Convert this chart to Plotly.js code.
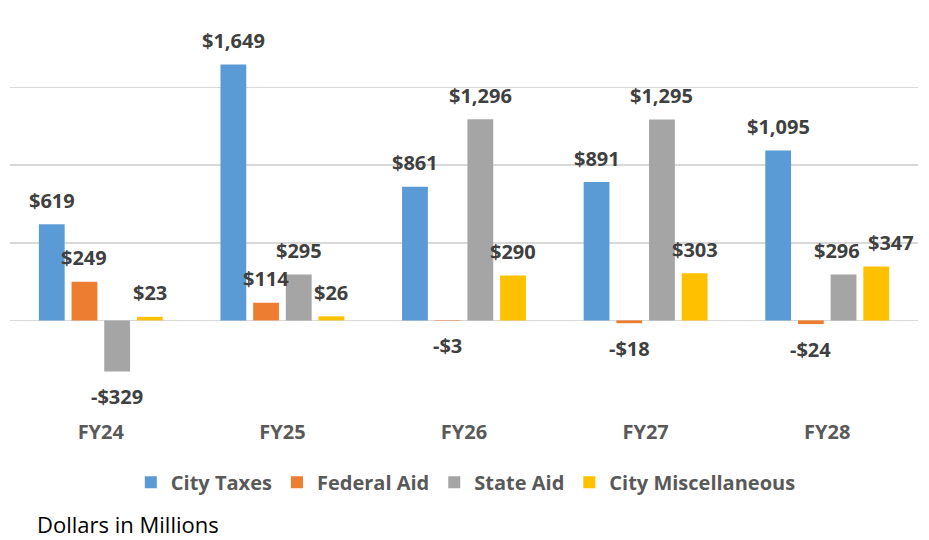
<!DOCTYPE html>
<html>
<head>
<meta charset="utf-8">
<script src="https://cdn.plot.ly/plotly-3.0.1.min.js"></script>
<style>
  html, body { margin: 0; padding: 0; background: #ffffff; }
  #chart { width: 929px; height: 540px; }
</style>
</head>
<body>
<div id="chart"></div>
<script>
const categories = ['FY24', 'FY25', 'FY26', 'FY27', 'FY28'];
const cityTaxes = [619, 1649, 861, 891, 1095];
const federalAid = [249, 114, -3, -18, -24];
const stateAid = [-329, 295, 1296, 1295, 296];
const cityMisc = [23, 26, 290, 303, 347];
const seriesNames = ['City Taxes', 'Federal Aid', 'State Aid', 'City Miscellaneous'];
const seriesColors = ['#5B9BD5', '#ED7D31', '#A5A5A5', '#FFC000'];
const footnote = 'Dollars in Millions';

const seriesValues = [cityTaxes, federalAid, stateAid, cityMisc];
const BARGAP = 0.28;
const BARGROUPGAP = 0.21;
const FONT = '"Open Sans", "DejaVu Sans", sans-serif';
// horizontal label nudges (px) to keep crowded labels apart, as in the original
const labelNudge = { 'FY28|State Aid': -7, 'FY28|City Miscellaneous': 15 };

function fmt(v) {
  const s = '$' + Math.abs(v).toLocaleString('en-US');
  return v < 0 ? '-' + s : s;
}

const traces = seriesValues.map((vals, j) => ({
  type: 'bar',
  name: seriesNames[j],
  x: categories,
  y: vals,
  marker: { color: seriesColors[j], line: { width: 0 } },
  hoverinfo: 'skip'
}));

const slot = (1 - BARGAP) / seriesValues.length;
const annotations = [];
seriesValues.forEach((vals, j) => {
  vals.forEach((v, i) => {
    annotations.push({
      xref: 'x', yref: 'y',
      x: i + (j - (seriesValues.length - 1) / 2) * slot,
      y: v,
      text: fmt(v),
      showarrow: false,
      xanchor: 'center',
      yanchor: 'middle',
      xshift: labelNudge[categories[i] + '|' + seriesNames[j]] || 0,
      yshift: v >= 0 ? 24 : -25,
      font: { family: FONT, size: 20, color: '#404040', weight: 700 }
    });
  });
});
annotations.push({
  xref: 'paper', yref: 'paper',
  x: 0.0285, y: -0.326,
  xanchor: 'left', yanchor: 'middle',
  borderpad: 0,
  text: footnote,
  showarrow: false,
  font: { family: FONT, size: 22, color: '#000000' }
});

const layout = {
  width: 929,
  height: 540,
  margin: { l: 10, r: 11, t: 10, b: 142, pad: 0 },
  paper_bgcolor: '#ffffff',
  plot_bgcolor: '#ffffff',
  barmode: 'group',
  bargap: BARGAP,
  bargroupgap: BARGROUPGAP,
  showlegend: true,
  legend: {
    orientation: 'h',
    x: 0.502, xanchor: 'center',
    y: -0.2174, yanchor: 'middle',
    font: { family: FONT, size: 20, color: '#595959', weight: 700 },
    traceorder: 'normal',
    itemclick: false
  },
  xaxis: {
    type: 'category',
    showgrid: false,
    showline: false,
    zeroline: false,
    ticks: '',
    ticklabelstandoff: 20,
    tickfont: { family: FONT, size: 20, color: '#595959', weight: 700 },
    fixedrange: true
  },
  yaxis: {
    range: [-500, 2000],
    dtick: 500,
    tick0: 0,
    showticklabels: false,
    ticks: '',
    showgrid: true,
    gridcolor: '#D9D9D9',
    gridwidth: 1.5,
    zeroline: true,
    zerolinecolor: '#D9D9D9',
    zerolinewidth: 1.5,
    showline: false,
    fixedrange: true
  },
  annotations: annotations
};

Plotly.newPlot('chart', traces, layout, { displayModeBar: false, staticPlot: true });
</script>
</body>
</html>
